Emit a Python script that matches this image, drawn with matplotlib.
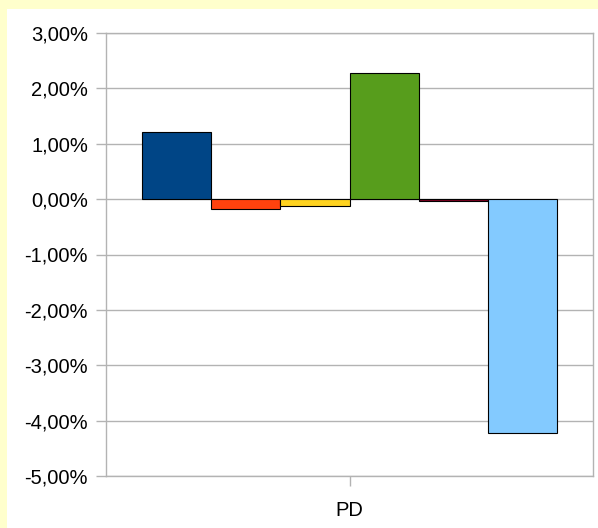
import matplotlib.pyplot as plt
import matplotlib.patches as mpatches
from matplotlib.ticker import FuncFormatter

plt.rcParams['font.family'] = ['Liberation Sans', 'DejaVu Sans']

category = 'PD'
series_values = [1.22, -0.18, -0.12, 2.28, -0.03, -4.22]
series_colors = ['#004586', '#ff420e', '#ffd320', '#579d1c', '#7e0021', '#83caff']
y_ticks = [3, 2, 1, 0, -1, -2, -3, -4, -5]

fig = plt.figure(figsize=(5.98, 5.28), dpi=100)
fig.patch.set_facecolor('white')

# yellow frame on top and left edge
fig.patches.append(mpatches.Rectangle((0, 1 - 9 / 528), 1, 9 / 528, transform=fig.transFigure,
                                      facecolor='#ffffcc', edgecolor='none', zorder=0))
fig.patches.append(mpatches.Rectangle((0, 0), 7 / 598, 1, transform=fig.transFigure,
                                      facecolor='#ffffcc', edgecolor='none', zorder=0))

ax = fig.add_axes([106 / 598, 1 - 476 / 528, 487 / 598, 443 / 528])

width = 0.1423
n = len(series_values)
for i, (v, c) in enumerate(zip(series_values, series_colors)):
    x = (i - (n - 1) / 2) * width
    ax.bar(x, v, width=width, color=c, edgecolor='black', linewidth=0.8, zorder=3)

ax.set_xlim(-0.5, 0.5)
ax.set_ylim(-5, 3)
ax.set_yticks(y_ticks)
ax.yaxis.set_major_formatter(FuncFormatter(lambda v, p: ('%.2f%%' % v).replace('.', ',')))
ax.set_xticks([0])
ax.set_xticklabels([category])

ax.grid(axis='y', color='#b3b3b3', linewidth=1, zorder=0)
for s in ax.spines.values():
    s.set_color('#b3b3b3')
    s.set_linewidth(1)

ax.tick_params(axis='both', color='#b3b3b3', length=7, width=1, labelsize=14.5, pad=6)
ax.tick_params(axis='x', pad=11)

fig.savefig('out.png', dpi=100)
